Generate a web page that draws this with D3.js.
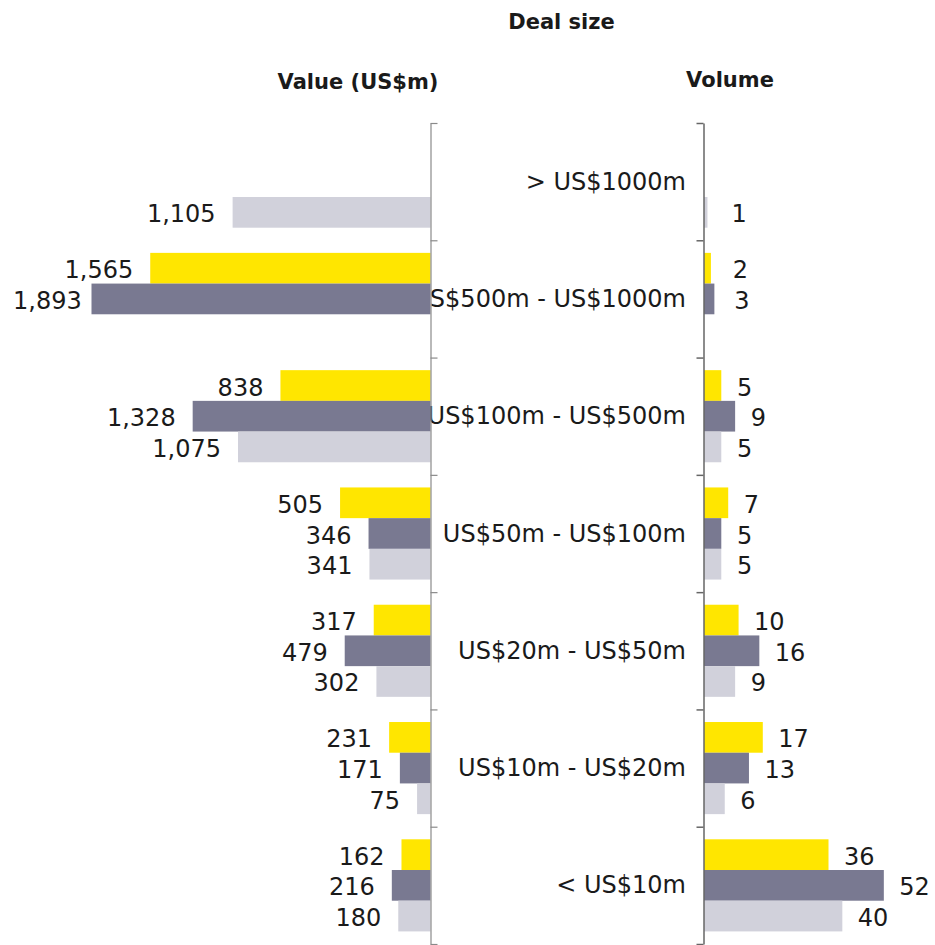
<!DOCTYPE html>
<html>
<head>
<meta charset="utf-8">
<script src="https://cdn.jsdelivr.net/npm/d3@7"></script>
<style>
  html, body { margin: 0; padding: 0; background: #fff; }
  svg { display: block; font-family: "DejaVu Sans", sans-serif; }
</style>
</head>
<body>
<svg id="chart" width="935" height="945"></svg>
<script>
// Deal size buckets, top to bottom
const categories = [
  "> US$1000m",
  "US$500m - US$1000m",
  "US$100m - US$500m",
  "US$50m - US$100m",
  "US$20m - US$50m",
  "US$10m - US$20m",
  "< US$10m"
];

// Three periods per bucket (null = no deal in that period)
const seriesKeys = ["first", "second", "third"];

// Deal value, US$m
const valueFirst  = [null, 1565,  838, 505, 317, 231, 162];
const valueSecond = [null, 1893, 1328, 346, 479, 171, 216];
const valueThird  = [1105, null, 1075, 341, 302,  75, 180];

// Deal volume, number of deals
const volumeFirst  = [null, 2, 5, 7, 10, 17, 36];
const volumeSecond = [null, 3, 9, 5, 16, 13, 52];
const volumeThird  = [1, null, 5, 5,  9,  6, 40];

const titleText  = "Deal size";
const valueTitle = "Value (US$m)";
const volumeTitle = "Volume";

const colors = { first: "#ffe600", second: "#797991", third: "#d1d1db" };

const valueSeries  = [valueFirst, valueSecond, valueThird];
const volumeSeries = [volumeFirst, volumeSecond, volumeThird];

const svg = d3.select("#chart");
const fmt = d3.format(",");

const plotTop = 123, plotBottom = 944;
const leftAxisX = 430.5, rightAxisX = 703.5;

// category bands
const y = d3.scaleBand().domain(categories).range([plotTop, plotBottom]).padding(0);
// bars within a band
const ySub = d3.scaleBand().domain(seriesKeys).range([0, y.bandwidth()])
  .paddingInner(0).paddingOuter(0.41);
// band boundaries for tick marks
const yEdge = d3.scaleLinear().domain([0, categories.length]).range([plotTop, plotBottom]);

// value extends leftwards from the left axis
const xValue = d3.scaleLinear().domain([0, 2400]).range([leftAxisX, 0.7]);
// volume extends rightwards from the right axis
const xVolume = d3.scaleLinear().domain([0, 60]).range([rightAxisX + 0.5, rightAxisX + 0.5 + 207.5]);

function rows(seriesArr) {
  const out = [];
  categories.forEach((c, i) => {
    seriesKeys.forEach((k, j) => {
      const v = seriesArr[j][i];
      if (v != null) out.push({ cat: c, key: k, v });
    });
  });
  return out;
}

const valueRows = rows(valueSeries);
const volumeRows = rows(volumeSeries);

// titles
svg.append("text").attr("x", 561.5).attr("y", 28.5).attr("text-anchor", "middle")
  .attr("font-size", 21).attr("font-weight", "bold").attr("fill", "#1a1a1a").text(titleText);
svg.append("text").attr("x", 358).attr("y", 88.5).attr("text-anchor", "middle")
  .attr("font-size", 21).attr("font-weight", "bold").attr("fill", "#1a1a1a").text(valueTitle);
svg.append("text").attr("x", 730).attr("y", 87).attr("text-anchor", "middle")
  .attr("font-size", 21).attr("font-weight", "bold").attr("fill", "#1a1a1a").text(volumeTitle);

// category labels (drawn beneath the bars)
svg.append("g").selectAll("text").data(categories).join("text")
  .attr("x", 686).attr("y", d => y(d) + y.bandwidth() / 2 + 8)
  .attr("text-anchor", "end").attr("font-size", 24).attr("fill", "#1a1a1a")
  .text(d => d);

// value bars
svg.append("g").selectAll("rect").data(valueRows).join("rect")
  .attr("x", d => xValue(d.v)).attr("width", d => leftAxisX - xValue(d.v))
  .attr("y", d => y(d.cat) + ySub(d.key)).attr("height", ySub.bandwidth())
  .attr("fill", d => colors[d.key]);

// volume bars
svg.append("g").selectAll("rect").data(volumeRows).join("rect")
  .attr("x", xVolume(0)).attr("width", d => xVolume(d.v) - xVolume(0))
  .attr("y", d => y(d.cat) + ySub(d.key)).attr("height", ySub.bandwidth())
  .attr("fill", d => colors[d.key]);

// value labels, right-aligned just left of each bar
const vLabels = svg.append("g").selectAll("text").data(valueRows).join("text")
  .attr("y", d => y(d.cat) + ySub(d.key) + ySub.bandwidth() / 2 + 10)
  .attr("font-size", 24).attr("fill", "#1a1a1a").attr("text-anchor", "start")
  .text(d => fmt(d.v));
vLabels.each(function (d) {
  const w = this.getComputedTextLength();
  const start = Math.max(xValue(d.v) - 17 - w, 13);
  d3.select(this).attr("x", start);
});

// volume labels, just right of each bar
svg.append("g").selectAll("text").data(volumeRows).join("text")
  .attr("x", d => {
    const end = xVolume(d.v);
    const len = end - xVolume(0);
    return Math.max(end + 15.5, xVolume(0) + 26 + len * 0.4);
  })
  .attr("y", d => y(d.cat) + ySub(d.key) + ySub.bandwidth() / 2 + 10)
  .attr("font-size", 24).attr("fill", "#1a1a1a")
  .text(d => fmt(d.v));

// left axis, ticks pointing inward
const leftAxis = svg.append("g").attr("transform", `translate(${leftAxisX},0)`)
  .call(d3.axisRight(yEdge).tickValues(d3.range(categories.length + 1))
    .tickSize(7).tickSizeOuter(0).tickFormat(""));
leftAxis.selectAll("path, line").attr("stroke", "#8a8a8a").attr("stroke-width", 1.2);

// right axis, ticks pointing inward
const rightAxis = svg.append("g").attr("transform", `translate(${rightAxisX},0)`)
  .call(d3.axisLeft(yEdge).tickValues(d3.range(categories.length + 1))
    .tickSize(7).tickSizeOuter(0).tickFormat(""));
rightAxis.selectAll("path, line").attr("stroke", "#666").attr("stroke-width", 1.5);
</script>
</body>
</html>
